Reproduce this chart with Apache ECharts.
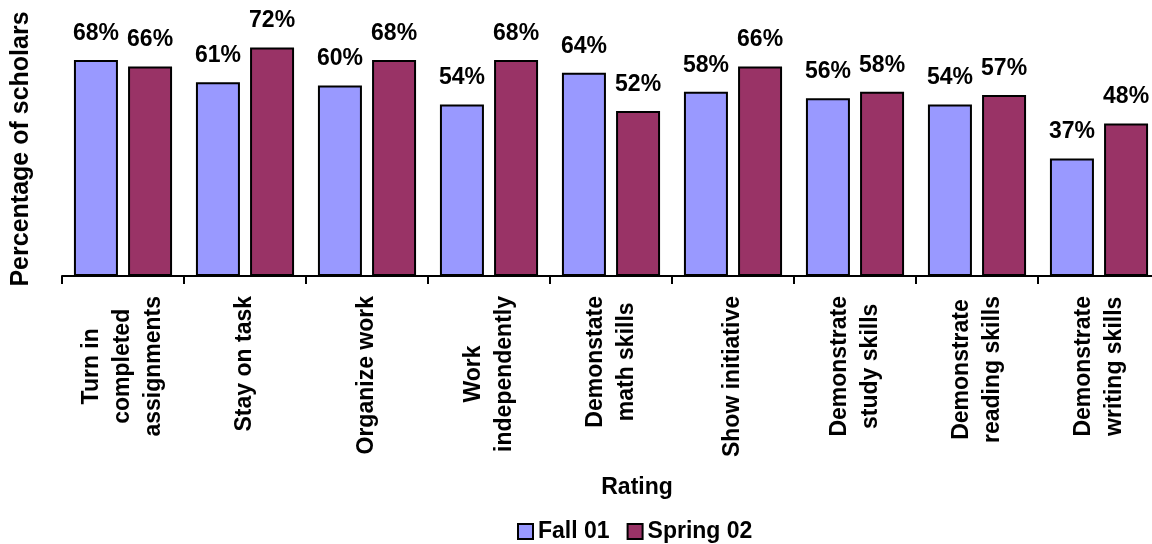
<!DOCTYPE html>
<html>
<head>
<meta charset="utf-8">
<script src="https://cdn.jsdelivr.net/npm/echarts@6/dist/echarts.min.js"></script>
<style>
  html, body { margin: 0; padding: 0; background: #fff; }
  #main { width: 1152px; height: 544px; }
</style>
</head>
<body>
<div id="main"></div>
<script>
// data
var categories = [
  'Turn in\ncompleted\nassignments',
  'Stay on task',
  'Organize work',
  'Work\nindependently',
  'Demonstate\nmath skills',
  'Show initiative',
  'Demonstrate\nstudy skills',
  'Demonstrate\nreading skills',
  'Demonstrate\nwriting skills'
];
var fall01 = [68, 61, 60, 54, 64, 58, 56, 54, 37];
var spring02 = [66, 72, 68, 68, 52, 66, 58, 57, 48];
var seriesNames = ['Fall 01', 'Spring 02'];

var FONT = "'Liberation Sans', Arial, sans-serif";

var myChart = echarts.init(document.getElementById('main'));

var barLabel = {
  show: true,
  position: 'top',
  distance: 15,
  formatter: '{c}%',
  color: '#000',
  fontSize: 23,
  fontWeight: 'bold',
  fontFamily: FONT
};

var option = {
  animation: false,
  // plot runs a little past the right edge, like the original crop
  grid: { left: 62, width: 1098, top: 22, bottom: 268, outerBoundsMode: 'none', containLabel: false },
  legend: {
    data: seriesNames,
    left: 517,
    top: 520,
    padding: 0,
    icon: 'rect',
    itemWidth: 15,
    itemHeight: 15,
    itemGap: 17,
    textStyle: { fontSize: 23, fontWeight: 'bold', color: '#000', fontFamily: FONT }
  },
  graphic: [{
    type: 'text',
    x: 637,
    y: 488,
    style: {
      text: 'Rating',
      fill: '#000',
      font: 'bold 23px ' + FONT,
      textAlign: 'center',
      textVerticalAlign: 'middle'
    }
  }],
  xAxis: {
    type: 'category',
    data: categories,
    axisLine: { lineStyle: { color: '#000', width: 2 } },
    axisTick: { show: true, length: 8, lineStyle: { color: '#000', width: 2 } },
    axisLabel: {
      interval: 0,
      rotate: 90,
      margin: 20,
      formatter: function (v) {
        return v.split('\n').map(function (s) { return '{c|' + s + '}'; }).join('\n');
      },
      rich: {
        c: { align: 'center', fontSize: 23, fontWeight: 'bold', color: '#000', fontFamily: FONT, lineHeight: 31 }
      }
    }
  },
  yAxis: {
    type: 'value',
    min: 0,
    max: 80,
    name: 'Percentage of scholars',
    nameLocation: 'middle',
    nameGap: 28,
    nameTextStyle: { fontSize: 25, fontWeight: 'bold', color: '#000', fontFamily: FONT },
    axisLine: { show: false },
    axisTick: { show: false },
    axisLabel: { show: false },
    splitLine: { show: false }
  },
  series: [{
    name: seriesNames[0],
    type: 'bar',
    data: fall01,
    barWidth: 44,
    barGap: '23%',
    itemStyle: { color: '#9999FF', borderColor: '#000', borderWidth: 2 },
    label: barLabel
  }, {
    name: seriesNames[1],
    type: 'bar',
    data: spring02,
    barWidth: 44,
    barGap: '23%',
    itemStyle: { color: '#993366', borderColor: '#000', borderWidth: 2 },
    label: barLabel
  }]
};

myChart.setOption(option);
</script>
</body>
</html>
